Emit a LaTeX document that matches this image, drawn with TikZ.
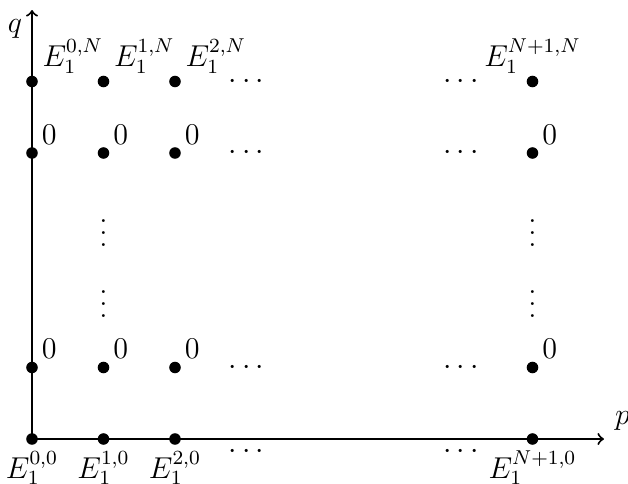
\documentclass[tikz,border=0pt]{standalone}
\newcommand{\myvdots}{\vbox{\baselineskip4.8pt\lineskiplimit0pt\hbox{.}\hbox{.}\hbox{.}}}
\begin{document}
\begin{tikzpicture}[x=1cm,y=1cm,
  pt/.style={circle,fill=black,inner sep=0pt,minimum size=4.6pt},
  axisline/.style={line width=0.8pt,->},
  lab/.style={inner sep=0pt,font=\large},
  dotsnode/.style={inner sep=0pt,font=\large}]
\useasboundingbox (-0.4476,-0.629) rectangle (8.336,6.140);
% axes
\coordinate (O) at (0,0);
\coordinate (xe) at (8,0);
\coordinate (ye) at (0,6);
\draw[axisline] (O) -- (xe);
\draw[axisline] (O) -- (ye);
\node[lab,anchor=base] (q) at (-0.24,5.68) {$q$};
\node[lab,anchor=base west] (p) at (8.15,0.196) {$p$};
% points
\foreach \c in {0,1,2,7}{
  \foreach \r in {0,1,4,5}{
    \node[pt] (d\c\r) at (\c,\r) {};
  }
}
% top labels
\node[lab,anchor=base west] (t0) at (0.14,5.21) {$E_1^{0,N}$};
\node[lab,anchor=base west] (t1) at (1.14,5.21) {$E_1^{1,N}$};
\node[lab,anchor=base west] (t2) at (2.14,5.21) {$E_1^{2,N}$};
\node[lab,anchor=base] (t7) at (7,5.21) {$E_1^{N+1,N}$};
% zeros
\foreach \c in {0,1,2,7}{
  \foreach \r in {1,4}{
    \node[lab,anchor=base west] (z\c\r) at (\c+0.13,\r+0.125) {$0$};
  }
}
% bottom labels
\node[lab,anchor=base] (b0) at (0,-0.55) {$E_1^{0,0}$};
\node[lab,anchor=base] (b1) at (1,-0.55) {$E_1^{1,0}$};
\node[lab,anchor=base] (b2) at (2,-0.55) {$E_1^{2,0}$};
\node[lab,anchor=base] (b7) at (7,-0.55) {$E_1^{N+1,0}$};
% horizontal dots
\foreach \x in {3,6}{
  \foreach \r in {1,4,5}{
    \node[dotsnode] (h\x\r) at (\x,\r) {$\cdots$};
  }
  \node[dotsnode] (h\x0) at (\x,-0.18) {$\cdots$};
}
% vertical dots
\foreach \c in {1,7}{
  \node[dotsnode] (v\c a) at (\c,1.89) {\myvdots};
  \node[dotsnode] (v\c b) at (\c,2.88) {\myvdots};
}
\end{tikzpicture}
\end{document}
